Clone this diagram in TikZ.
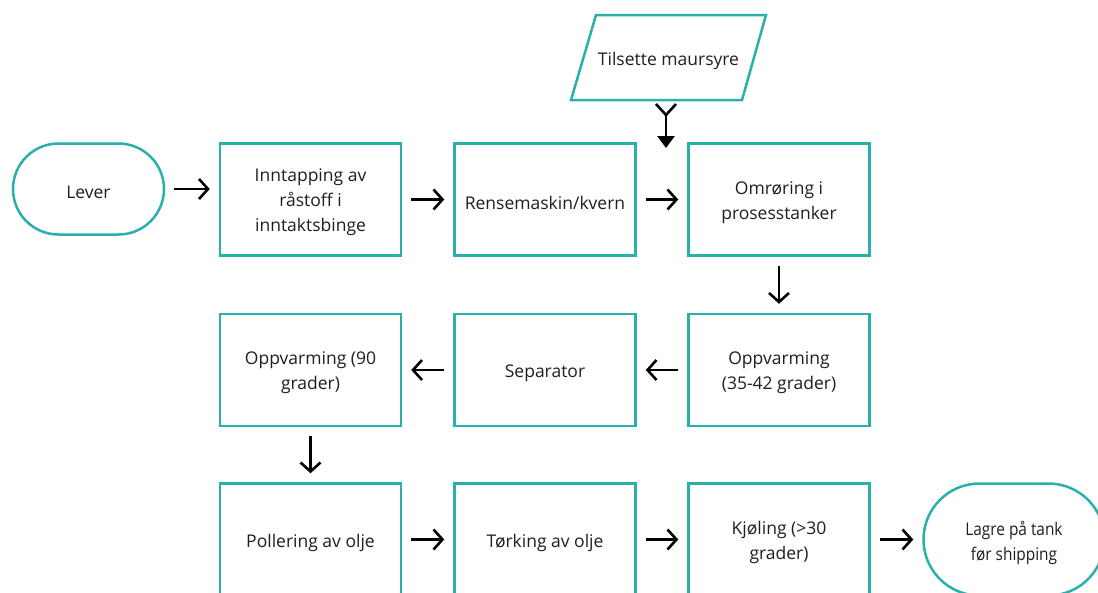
\documentclass[tikz,border=0pt]{standalone}
\usepackage{fontspec}
\setmainfont{Open Sans}
\usetikzlibrary{arrows.meta,shapes.misc}
\definecolor{flowteal}{RGB}{42,176,172}
\definecolor{textgray}{RGB}{30,30,30}
\begin{document}
\begin{tikzpicture}[x=1pt,y=-1pt,
  txt/.style={align=center,text=textgray,font=\fontsize{17.5}{25}\selectfont},
  proc/.style={draw=flowteal,line width=2.5pt,minimum width=181pt,minimum height=112pt,inner sep=0pt,
    label={[txt,yshift=-3pt]center:{#1}}},
  term/.style={rounded rectangle,draw=flowteal,line width=2.5pt,inner sep=0pt,
    label={[txt,yshift=-3pt]center:{#1}}},
  flow/.style={-{Straight Barb[length=9pt,width=20pt,line width=2.6pt]},line width=2.6pt,shorten >=9pt,shorten <=9pt},
  drop/.style={-{Triangle[length=12pt,width=17pt]},line width=2.6pt}]
\useasboundingbox (0,0) rectangle (1098,592);
\clip (0,0) rectangle (1098,592);
% terminals
\node[term={Lever},minimum width=151pt,minimum height=91pt] (lever) at (88.5,189) {};
\node[term={\scalebox{0.88}[1]{Lagre på tank}\\\scalebox{0.88}[1]{før shipping}},minimum width=181pt,minimum height=112pt] (lagre) at (1014,539.5) {};
% row 1
\node[proc={Inntapping av\\råstoff i\\inntaktsbinge}] (b1) at (310.5,199.5) {};
\node[proc={Rensemaskin/kvern}] (b2) at (545,199.5) {};
\node[proc={Omrøring i\\prosesstanker}] (b3) at (779,199.5) {};
% row 2
\node[proc={Oppvarming (90\\grader)}] (b4) at (310.5,370) {};
\node[proc={Separator}] (b5) at (545,370) {};
\node[proc={Oppvarming\\(35-42 grader)}] (b6) at (779,370) {};
% row 3
\node[proc={Pollering av olje}] (b7) at (310.5,539.5) {};
\node[proc={Tørking av olje}] (b8) at (545,539.5) {};
\node[proc={Kjøling (>30\\grader)}] (b9) at (779,539.5) {};
% parallelogram input
\draw[flowteal,line width=2.5pt] (596,15) -- (766,15) -- (742,100) -- (571,100) -- cycle;
\node[txt] (tils) at (668.5,61) {Tilsette maursyre};
% Y-shaped connector
\coordinate (yj) at (666,115);
\coordinate (ytip) at (666,148);
\draw[line width=2.6pt] ([xshift=-10pt,yshift=11pt]yj) -- (yj) -- ([xshift=10pt,yshift=11pt]yj);
\draw[drop] (yj) -- (ytip);
% flow arrows
\draw[flow] (lever.east) -- (lever.east -| b1.west);
\draw[flow] (b1) -- (b2);
\draw[flow] (b2) -- (b3);
\draw[flow] (b3) -- (b6);
\draw[flow] (b6) -- (b5);
\draw[flow] (b5) -- (b4);
\draw[flow] (b4) -- (b7);
\draw[flow] (b7) -- (b8);
\draw[flow] (b8) -- (b9);
\draw[flow] (b9) -- (lagre);
\end{tikzpicture}
\end{document}
